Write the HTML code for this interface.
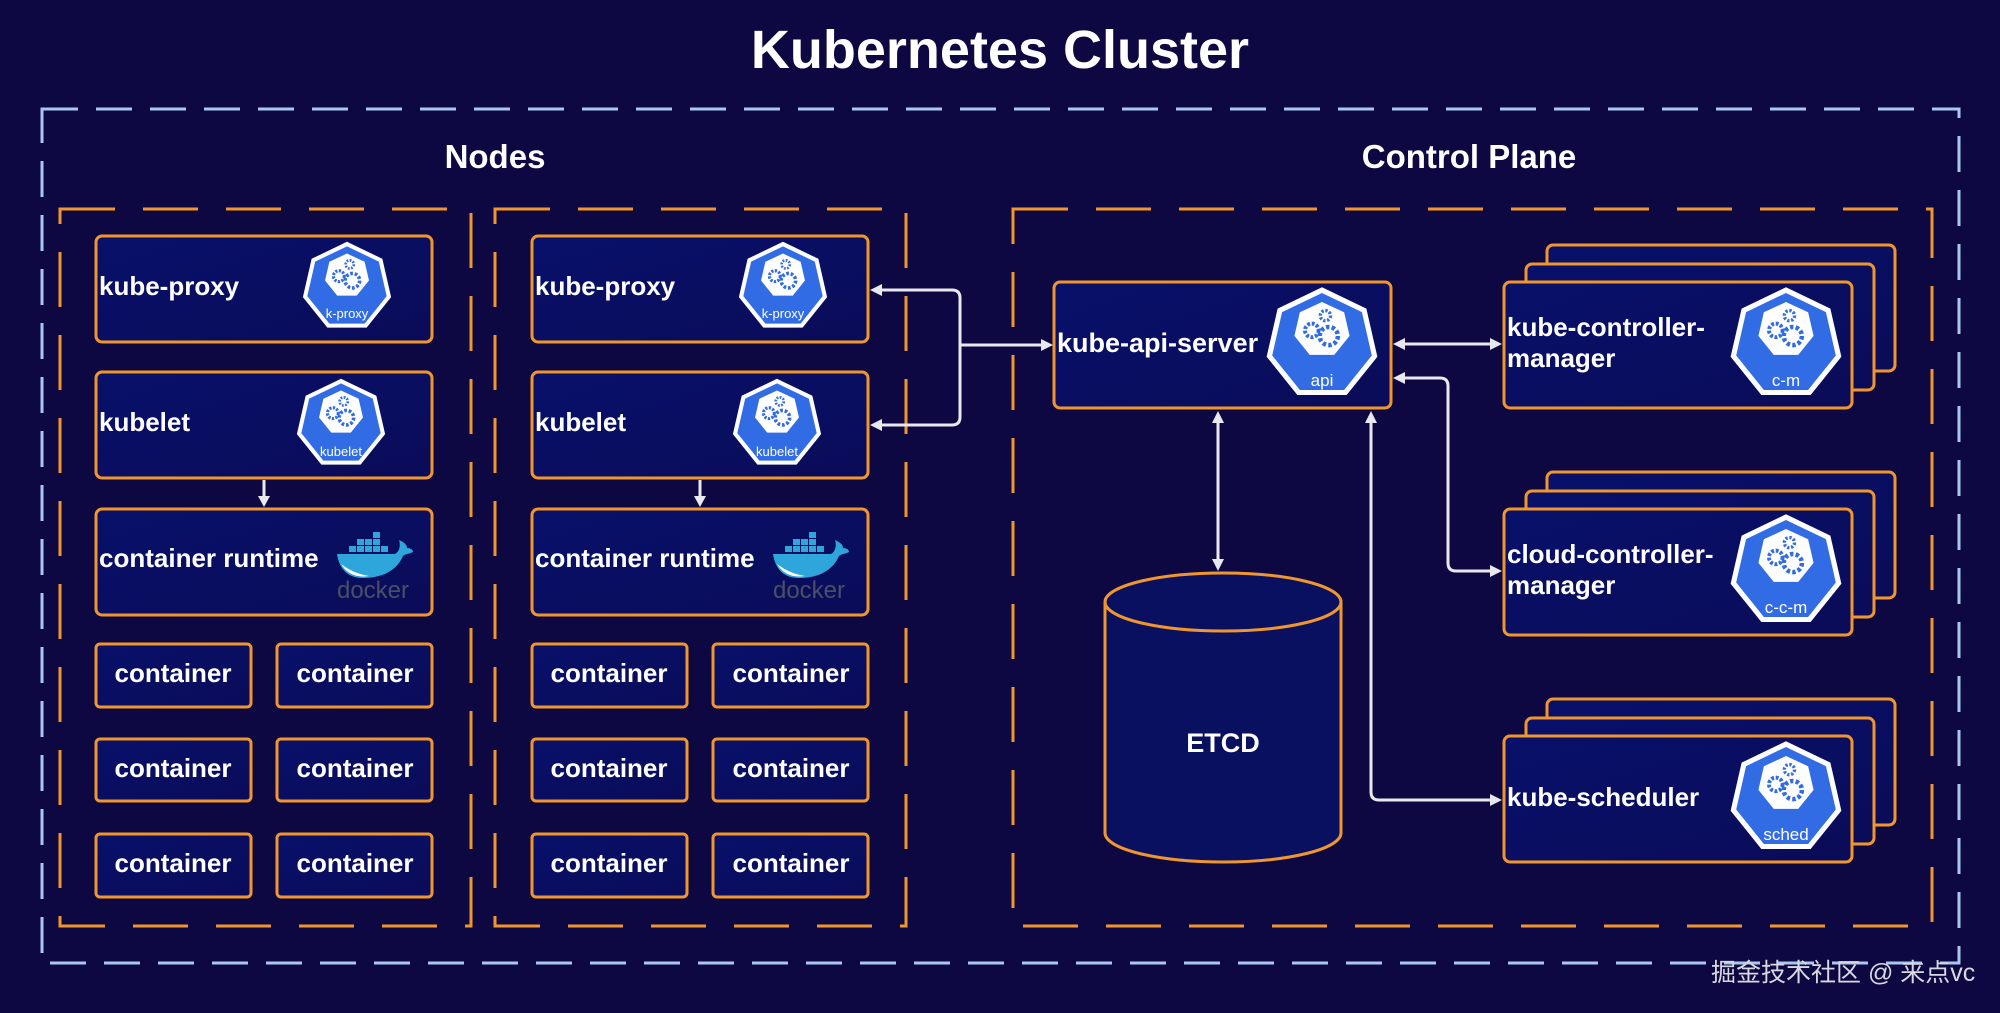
<!DOCTYPE html>
<html><head><meta charset="utf-8"><style>
html,body{margin:0;padding:0;background:#0e0842;}
svg{display:block}
text{font-family:"Liberation Sans",sans-serif;fill:#fff;font-weight:bold}
.lbl{font-size:26px}
.il{font-family:"Liberation Sans",sans-serif;font-weight:normal;fill:#fff;text-anchor:middle}
</style></head><body>
<svg width="2000" height="1013" viewBox="0 0 2000 1013" xmlns="http://www.w3.org/2000/svg">
<defs>
<linearGradient id="bx" x1="0" y1="0" x2="1" y2="1"><stop offset="0" stop-color="#08106a"/><stop offset="1" stop-color="#0a0c58"/></linearGradient>
<symbol id="hept" viewBox="-52 -52 104 104" overflow="visible">
<polygon points="0,-50 39.1,-31.2 48.8,11.2 21.7,45 -21.7,45 -48.8,11.2 -39.1,-31.2" fill="#fff"/>
<polygon points="0,-45 35.2,-28.1 43.9,10.1 19.5,40.5 -19.5,40.5 -43.9,10.1 -35.2,-28.1" fill="#326ce5"/>
<polygon points="0,-37 19.5,-28 24.3,-7.2 10.8,9.6 -10.8,9.6 -24.3,-7.2 -19.5,-28" fill="#fff"/>
<circle cx="-9" cy="-12" r="6" fill="none" stroke="#326ce5" stroke-width="3.5" stroke-dasharray="2.5 1.5"/>
<circle cx="6" cy="-7" r="8" fill="none" stroke="#326ce5" stroke-width="4" stroke-dasharray="3 2"/>
<circle cx="3" cy="-25" r="4.5" fill="none" stroke="#326ce5" stroke-width="3" stroke-dasharray="2 1.5"/>
</symbol>
<symbol id="dock" viewBox="0 0 80 70" overflow="visible">
<g fill="#2ea6dc">
<rect x="16" y="16" width="7" height="6"/><rect x="24" y="16" width="7" height="6"/><rect x="32" y="16" width="7" height="6"/><rect x="40" y="16" width="7" height="6"/><rect x="48" y="16" width="7" height="6"/>
<rect x="24" y="9" width="7" height="6"/><rect x="32" y="9" width="7" height="6"/><rect x="40" y="9" width="7" height="6"/>
<rect x="40" y="2" width="7" height="6"/>
<path d="M4 24 H62 C66 22 68 16 66 10 C70 12 74 14 74 18 C78 18 80 20 80 22 C76 24 72 24 70 26 C64 40 50 48 30 48 C14 48 6 38 4 24 Z"/>
</g>
<path d="M8 34 C14 44 24 48 36 46 C24 44 16 40 8 34Z" fill="#fff"/>
<text x="40" y="68" style="font-size:24px;font-weight:normal;fill:#4a4f66;text-anchor:middle">docker</text>
</symbol>
</defs>
<rect width="2000" height="1013" fill="#0e0842"/>
<text x="1000" y="68" text-anchor="middle" style="font-size:54px">Kubernetes Cluster</text>
<rect x="42" y="109" width="1917" height="854" fill="none" stroke="#a9c8ef" stroke-width="3" stroke-dasharray="36 18"/>
<text x="495" y="168" text-anchor="middle" style="font-size:33px">Nodes</text>
<text x="1469" y="168" text-anchor="middle" style="font-size:33px">Control Plane</text>
<g fill="none" stroke="#f0962e" stroke-width="3" stroke-dasharray="55 28">
<rect x="60" y="209" width="411" height="717"/>
<rect x="495" y="209" width="411" height="717"/>
<rect x="1013" y="209" width="919" height="717"/>
</g>

<g id="n1">
<g fill="url(#bx)" stroke="#f0962e" stroke-width="3">
<rect x="96" y="236" width="336" height="106" rx="6"/>
<rect x="96" y="372" width="336" height="106" rx="6"/>
<rect x="96" y="509" width="336" height="106" rx="6"/>
<rect x="96" y="644" width="155" height="63" rx="4"/><rect x="277" y="644" width="155" height="63" rx="4"/>
<rect x="96" y="739" width="155" height="62" rx="4"/><rect x="277" y="739" width="155" height="62" rx="4"/>
<rect x="96" y="834" width="155" height="63" rx="4"/><rect x="277" y="834" width="155" height="63" rx="4"/>
</g>
<text x="99" y="295" class="lbl">kube-proxy</text>
<text x="99" y="431" class="lbl">kubelet</text>
<text x="99" y="567" class="lbl">container runtime</text>
<text x="173" y="682" class="lbl" text-anchor="middle">container</text><text x="355" y="682" class="lbl" text-anchor="middle">container</text>
<text x="173" y="777" class="lbl" text-anchor="middle">container</text><text x="355" y="777" class="lbl" text-anchor="middle">container</text>
<text x="173" y="872" class="lbl" text-anchor="middle">container</text><text x="355" y="872" class="lbl" text-anchor="middle">container</text>
<use href="#hept" x="300" y="240" width="94" height="94"/>
<text x="347" y="318" class="il" style="font-size:13px">k-proxy</text>
<use href="#hept" x="294" y="377" width="94" height="94"/>
<text x="341" y="456" class="il" style="font-size:13px">kubelet</text>
<use href="#dock" x="333" y="530" width="80" height="70"/>
<line x1="264" y1="480" x2="264" y2="498" stroke="#e8e8ee" stroke-width="3"/>
<polygon points="258,496 270,496 264,507" fill="#e8e8ee"/>
</g>
<use href="#n1" x="436" y="0"/>

<g fill="url(#bx)" stroke="#f0962e" stroke-width="3">
<rect x="1054" y="282" width="337" height="126" rx="6"/>
<rect x="1547" y="245" width="348" height="126" rx="6"/><rect x="1526" y="264" width="348" height="126" rx="6"/><rect x="1504" y="282" width="348" height="126" rx="6"/>
<rect x="1547" y="472" width="348" height="126" rx="6"/><rect x="1526" y="491" width="348" height="126" rx="6"/><rect x="1504" y="509" width="348" height="126" rx="6"/>
<rect x="1547" y="699" width="348" height="126" rx="6"/><rect x="1526" y="718" width="348" height="126" rx="6"/><rect x="1504" y="736" width="348" height="126" rx="6"/>
</g>
<text x="1057" y="352" style="font-size:27px">kube-api-server</text>
<use href="#hept" x="1263" y="285" width="118" height="118"/>
<text x="1322" y="386" class="il" style="font-size:17px">api</text>
<text x="1507" y="336" style="font-size:26px">kube-controller-</text>
<text x="1507" y="367" style="font-size:26px">manager</text>
<use href="#hept" x="1727" y="285" width="118" height="118"/>
<text x="1786" y="386" class="il" style="font-size:17px">c-m</text>
<text x="1507" y="563" style="font-size:26px">cloud-controller-</text>
<text x="1507" y="594" style="font-size:26px">manager</text>
<use href="#hept" x="1727" y="512" width="118" height="118"/>
<text x="1786" y="613" class="il" style="font-size:17px">c-c-m</text>
<text x="1507" y="806" style="font-size:26px">kube-scheduler</text>
<use href="#hept" x="1727" y="739" width="118" height="118"/>
<text x="1786" y="840" class="il" style="font-size:17px">sched</text>

<path d="M1105 602 V833 A118 29 0 0 0 1341 833 V602" fill="#0a1060" stroke="#f0962e" stroke-width="3"/>
<ellipse cx="1223" cy="602" rx="118" ry="29" fill="#0a1060" stroke="#f0962e" stroke-width="3"/>
<text x="1223" y="752" text-anchor="middle" style="font-size:27px">ETCD</text>

<g fill="none" stroke="#e8e8ee" stroke-width="3" stroke-linejoin="round">
<path d="M880 290 H952 Q960 290 960 298 V417 Q960 425 952 425 H880"/>
<path d="M960 345 H1042"/>
<path d="M1404 344 H1490"/>
<path d="M1404 378 H1440 Q1448 378 1448 386 V563 Q1448 571 1456 571 H1490"/>
<path d="M1371 422 V792 Q1371 800 1379 800 H1490"/>
<path d="M1218 422 V560"/>
</g>
<g fill="#e8e8ee">
<polygon points="870,290 882,284 882,296"/>
<polygon points="870,425 882,419 882,431"/>
<polygon points="1053,345 1041,339 1041,351"/>
<polygon points="1393,344 1405,338 1405,350"/>
<polygon points="1502,344 1490,338 1490,350"/>
<polygon points="1393,378 1405,372 1405,384"/>
<polygon points="1502,571 1490,565 1490,577"/>
<polygon points="1371,411 1365,423 1377,423"/>
<polygon points="1502,800 1490,794 1490,806"/>
<polygon points="1218,411 1212,423 1224,423"/>
<polygon points="1218,571 1212,559 1224,559"/>
</g>
<text x="1711" y="981" style="font-family:'Liberation Sans','Noto Sans CJK SC',sans-serif;font-size:25px;font-weight:normal;fill:#d8d8e0">掘金技术社区 @ 来点vc</text>
</svg>
</body></html>
